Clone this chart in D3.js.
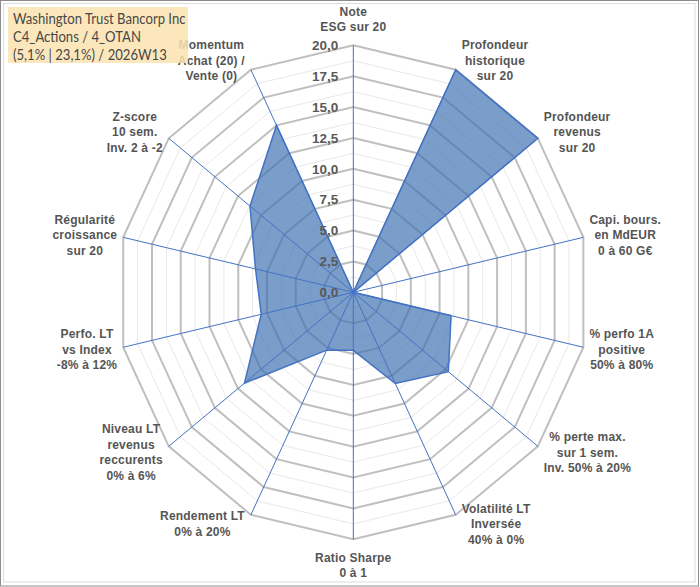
<!DOCTYPE html>
<html>
<head>
<meta charset="utf-8">
<script src="https://cdn.jsdelivr.net/npm/d3@7"></script>
<style>
  html, body { margin: 0; padding: 0; background: #ffffff; }
  svg { display: block; }
</style>
</head>
<body>
<svg id="chart" width="700" height="587"></svg>
<script>
// ---- Data ----
const titleLines = ["Washington Trust Bancorp Inc", "C4_Actions / 4_OTAN", "(5,1% | 23,1%) / 2026W13"];
const categories = [
  ["Note", "ESG sur 20"],
  ["Profondeur", "historique", "sur 20"],
  ["Profondeur", "revenus", "sur 20"],
  ["Capi. bours.", "en MdEUR", "0 à 60 G€"],
  ["% perfo 1A", "positive", "50% à 80%"],
  ["% perte max.", "sur 1 sem.", "Inv. 50% à 20%"],
  ["Volatilité LT", "Inversée", "40% à 0%"],
  ["Ratio Sharpe", "0 à 1"],
  ["Rendement LT", "0% à 20%"],
  ["Niveau LT", "revenus", "reccurents", "0% à 6%"],
  ["Perfo. LT", "vs Index", "-8% à 12%"],
  ["Régularité", "croissance", "sur 20"],
  ["Z-score", "10 sem.", "Inv. 2 à -2"],
  ["Momentum", "Achat (20) /", "Vente (0)"]
];
const values = [0, 20, 20, 0, 8.5, 10.3, 8.2, 4.7, 5.2, 11.8, 8.0, 8.5, 11.2, 15.0];
const majorTicks = [0, 2.5, 5, 7.5, 10, 12.5, 15, 17.5, 20];
const tickLabels = ["0,0", "2,5", "5,0", "7,5", "10,0", "12,5", "15,0", "17,5", "20,0"];
const minorTicks = [1.25, 3.75, 6.25, 8.75, 11.25, 13.75, 16.25, 18.75];

// ---- Layout ----
const cx = 353.3, cy = 292.3;
const rx = 236, ry = 247;
const svg = d3.select("#chart");

const rScale = d3.scaleLinear().domain([0, 20]).range([0, 1]);
const aScale = d3.scaleLinear().domain([0, categories.length]).range([0, 2 * Math.PI]);

function pt(i, v) {
  const a = aScale(i), r = rScale(v);
  return [cx + rx * r * Math.sin(a), cy - ry * r * Math.cos(a)];
}

// Borders
svg.append("rect").attr("x", 0.5).attr("y", 0.5).attr("width", 698).attr("height", 585.5)
  .attr("fill", "#ffffff").attr("stroke", "#8c8c8c").attr("stroke-width", 1);
svg.append("rect").attr("x", 3.5).attr("y", 3.5).attr("width", 691.5).attr("height", 578.5)
  .attr("fill", "none").attr("stroke", "#dcdcdc").attr("stroke-width", 1);

const idx = d3.range(categories.length);
const ring = v => d3.line()(idx.map(i => pt(i, v))) + "Z";

// Minor grid
svg.append("g").selectAll("path").data(minorTicks).join("path")
  .attr("d", d => ring(d)).attr("fill", "none")
  .attr("stroke", "#e8e8e8").attr("stroke-width", 1);
// Major grid
svg.append("g").selectAll("path").data(majorTicks.filter(d => d > 0)).join("path")
  .attr("d", d => ring(d)).attr("fill", "none")
  .attr("stroke", "#bfbfbf").attr("stroke-width", 2);

// Data polygon fill
svg.append("path")
  .attr("d", d3.line()(values.map((v, i) => pt(i, v))) + "Z")
  .attr("fill", "#3D6FB0").attr("fill-opacity", 0.68).attr("stroke", "none");

// Spokes
svg.append("g").selectAll("line").data(idx).join("line")
  .attr("x1", cx).attr("y1", cy)
  .attr("x2", i => pt(i, 20)[0]).attr("y2", i => pt(i, 20)[1])
  .attr("stroke", "#4472C4").attr("stroke-width", 1);

// Polygon outline
svg.append("path")
  .attr("d", d3.line()(values.map((v, i) => pt(i, v))) + "Z")
  .attr("fill", "none").attr("stroke", "#4472C4").attr("stroke-width", 1.5)
  .attr("stroke-linejoin", "miter");

// Tick labels
svg.append("g").selectAll("text").data(majorTicks).join("text")
  .attr("x", cx - 15)
  .attr("y", d => cy - ry * rScale(d))
  .attr("dy", "0.35em")
  .attr("text-anchor", "end")
  .attr("font-family", "'Liberation Sans', Arial, sans-serif")
  .attr("font-weight", "bold")
  .attr("font-size", 13.5)
  .attr("fill", "#595959")
  .text((d, i) => tickLabels[i]);

// Category labels
const lineH = 15.5;
const labG = svg.append("g");
categories.forEach((lines, i) => {
  const a = aScale(i);
  const s = Math.sin(a), c = -Math.cos(a);
  const end = pt(i, 20);
  const t = labG.append("text")
    .attr("font-family", "'Liberation Sans', Arial, sans-serif")
    .attr("font-weight", "bold")
    .attr("font-size", 12)
    .attr("letter-spacing", 0.2)
    .attr("fill", "#555555")
    .attr("text-anchor", "middle");
  const spans = lines.map(l => t.append("tspan").text(l));
  let w = 0;
  spans.forEach(sp => { w = Math.max(w, sp.node().getComputedTextLength()); });
  const h = lines.length * lineH;
  let dx, dy;
  if (Math.abs(s) < 0.01) { dx = 0; dy = c * (h / 2 + 10.5); }
  else { dx = Math.sign(s) * (w / 2 + 6); dy = c * 10; }
  const lx = end[0] + dx, ly = end[1] + dy;
  spans.forEach((sp, k) => {
    sp.attr("x", lx).attr("y", ly - h / 2 + lineH * (k + 0.5)).attr("dy", "0.35em");
  });
});

// Title box
svg.append("rect").attr("x", 8).attr("y", 7).attr("width", 180).attr("height", 56)
  .attr("fill", "#FCE3B0").attr("fill-opacity", 0.85);
svg.append("g").attr("transform", "translate(13,0) scale(0.875,1)")
  .selectAll("text").data(titleLines).join("text")
  .attr("x", 0)
  .attr("y", (d, i) => 18.5 + i * 18)
  .attr("dy", "0.36em")
  .attr("font-family", "Lato, Carlito, Calibri, sans-serif")
  .attr("font-size", 15)
  .attr("fill", "#474747")
  .text(d => d);
</script>
</body>
</html>
